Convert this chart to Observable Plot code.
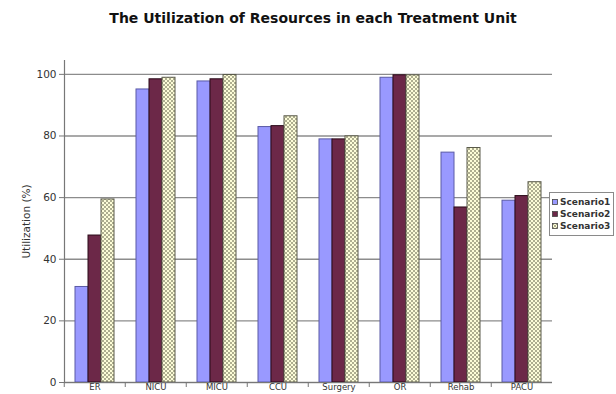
<!DOCTYPE html>
<html>
<head>
<meta charset="utf-8">
<script src="https://cdn.jsdelivr.net/npm/d3@7"></script>
<script src="https://cdn.jsdelivr.net/npm/@observablehq/plot@0.6"></script>
<style>
  html, body { margin: 0; padding: 0; background: #fff; }
  #wrap { position: relative; width: 616px; height: 394px; overflow: hidden; font-family: "DejaVu Sans", sans-serif; }
  #title { position: absolute; left: 0; top: 10px; width: 626px; text-align: center; font-weight: bold; font-size: 14px; color: #111; }
  #chart { position: absolute; left: 0; top: 0; }
  #legend { position: absolute; left: 549px; top: 192px; width: 61px; border: 1px solid #8a8a8a; background: #fff; padding: 3px 0 3px 2px; font-size: 9px; font-weight: bold; color: #333; }
  #legend .row { display: flex; align-items: center; height: 12px; }
  #legend svg { margin-right: 2px; }
</style>
</head>
<body>
<div id="wrap">
  <div id="chart"></div>
  <div id="title">The Utilization of Resources in each Treatment Unit</div>
  <div id="legend"></div>
</div>
<script>
// ---- data ----
const categories = ["ER", "NICU", "MICU", "CCU", "Surgery", "OR", "Rehab", "PACU"];
const scenarios = ["Scenario1", "Scenario2", "Scenario3"];
const scenario1 = [31.0, 95.1, 97.7, 82.9, 78.9, 98.9, 74.6, 59.0];
const scenario2 = [47.7, 98.4, 98.4, 83.2, 78.9, 99.7, 56.8, 60.5];
const scenario3 = [59.4, 98.9, 99.8, 86.4, 79.9, 99.7, 76.1, 65.0];
const yTicks = [0, 20, 40, 60, 80, 100];

const series = [scenario1, scenario2, scenario3];
const table = [];
scenarios.forEach((s, j) => categories.forEach((c, i) => table.push({unit: c, scenario: s, value: series[j][i]})));

const fills = {Scenario1: "#9999ff", Scenario2: "#6c2848", Scenario3: "url(#chk)"};
const strokes = {Scenario1: "#5a5aa6", Scenario2: "#2a0a18", Scenario3: "#5a5a4a"};

const W = 616, ML = 62, MR = 62;
const step = (W - ML - MR) / categories.length;

const barMarks = scenarios.map(s => Plot.barY(table.filter(d => d.scenario === s), {
  fx: "unit", x: "scenario", y: "value",
  fill: fills[s], stroke: strokes[s], strokeWidth: 1, inset: 0
}));

const svg = Plot.plot({
  width: W, height: 394,
  marginTop: 60, marginBottom: 12, marginLeft: ML, marginRight: MR,
  style: {fontFamily: "DejaVu Sans", fontSize: "10.5px", color: "#333", background: "transparent", overflow: "visible"},
  fx: {domain: categories, padding: 0, label: null},
  x: {domain: scenarios, paddingInner: 0, paddingOuter: 0.75, axis: null},
  y: {domain: [0, 104.5]},
  marks: [
    Plot.gridY(yTicks, {stroke: "#8c8c8c", strokeOpacity: 1, strokeWidth: 1.3}),
    ...barMarks,
    Plot.ruleY([0], {stroke: "#777", strokeWidth: 1.2}),
    Plot.frame({anchor: "left", facetAnchor: "left", stroke: "#777", strokeWidth: 1.2}),
    Plot.axisY({ticks: yTicks, tickSize: 5, tickPadding: 3, stroke: "#777",
      label: "Utilization (%)", labelAnchor: "center", labelOffset: 42, labelArrow: "none"}),
    Plot.axisFx({anchor: "bottom", tickSize: 0, tickPadding: 1, fontSize: 8.5, label: null}),
    Plot.axisFx({anchor: "bottom", tickSize: 5, tickFormat: () => "", dx: -step / 2, stroke: "#777", label: null})
  ]
});

d3.select(svg).insert("defs", ":first-child").html(
  `<pattern id="chk" width="4" height="4" patternUnits="userSpaceOnUse">
     <rect width="4" height="4" fill="#fdfdd8"/>
     <rect width="2" height="2" fill="#aeae90"/>
     <rect x="2" y="2" width="2" height="2" fill="#aeae90"/>
   </pattern>`);
document.getElementById("chart").appendChild(svg);

const legend = d3.select("#legend");
scenarios.forEach(s => {
  const row = legend.append("div").attr("class", "row");
  row.append("svg").attr("width", 6).attr("height", 6)
    .append("rect").attr("x", 0.5).attr("y", 0.5).attr("width", 5).attr("height", 5)
    .attr("fill", fills[s]).attr("stroke", "#444").attr("stroke-width", 0.8);
  row.append("span").text(s);
});
</script>
</body>
</html>
